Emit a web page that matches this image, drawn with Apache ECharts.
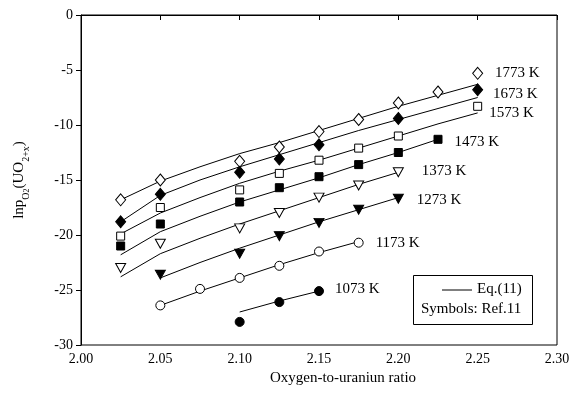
<!DOCTYPE html>
<html>
<head>
<meta charset="utf-8">
<script src="https://cdn.jsdelivr.net/npm/echarts@6/dist/echarts.min.js"></script>
<style>
  html, body { margin: 0; padding: 0; background: #fff; }
  #chart { width: 581px; height: 402px; }
</style>
</head>
<body>
<div id="chart"></div>
<script>
// temperatures (series names)
var temps = ['1773 K', '1673 K', '1573 K', '1473 K', '1373 K', '1273 K', '1173 K', '1073 K']

// measured points (Ref.11)
var obsX1773 = [2.025, 2.05, 2.10, 2.125, 2.15, 2.175, 2.20, 2.225, 2.25]
var obsY1773 = [-16.8, -15.0, -13.3, -12.0, -10.6, -9.5, -8.0, -7.0, -5.3]
var obsX1673 = [2.025, 2.05, 2.10, 2.125, 2.15, 2.20, 2.25]
var obsY1673 = [-18.8, -16.3, -14.3, -13.1, -11.8, -9.4, -6.8]
var obsX1573 = [2.025, 2.05, 2.10, 2.125, 2.15, 2.175, 2.20, 2.25]
var obsY1573 = [-20.1, -17.5, -15.9, -14.4, -13.2, -12.1, -11.0, -8.3]
var obsX1473 = [2.025, 2.05, 2.10, 2.125, 2.15, 2.175, 2.20, 2.225]
var obsY1473 = [-21.0, -19.0, -17.0, -15.7, -14.7, -13.6, -12.5, -11.3]
var obsX1373 = [2.025, 2.05, 2.10, 2.125, 2.15, 2.175, 2.20]
var obsY1373 = [-23.0, -20.8, -19.4, -18.0, -16.6, -15.5, -14.3]
var obsX1273 = [2.05, 2.10, 2.125, 2.15, 2.175, 2.20]
var obsY1273 = [-23.6, -21.7, -20.1, -18.9, -17.7, -16.7]
var obsX1173 = [2.05, 2.075, 2.10, 2.125, 2.15, 2.175]
var obsY1173 = [-26.4, -24.9, -23.9, -22.8, -21.5, -20.7]
var obsX1073 = [2.10, 2.125, 2.15]
var obsY1073 = [-27.9, -26.1, -25.1]

// Eq.(11) curves
var eqX1773 = [2.025, 2.05, 2.075, 2.10, 2.125, 2.15, 2.175, 2.20, 2.225, 2.25]
var eqY1773 = [-16.8, -15.1, -13.8, -12.6, -11.6, -10.5, -9.4, -8.3, -7.3, -6.3]
var eqX1673 = [2.025, 2.05, 2.075, 2.10, 2.125, 2.15, 2.175, 2.20, 2.225, 2.25]
var eqY1673 = [-18.8, -16.4, -15.0, -13.8, -12.7, -11.6, -10.5, -9.5, -8.5, -7.5]
var eqX1573 = [2.025, 2.05, 2.075, 2.10, 2.125, 2.15, 2.175, 2.20, 2.225, 2.25]
var eqY1573 = [-19.9, -18.0, -16.6, -15.3, -14.2, -13.2, -12.1, -11.0, -9.9, -8.9]
var eqX1473 = [2.025, 2.05, 2.075, 2.10, 2.125, 2.15, 2.175, 2.20, 2.225]
var eqY1473 = [-21.8, -19.7, -18.3, -17.0, -15.9, -14.8, -13.6, -12.5, -11.3]
var eqX1373 = [2.025, 2.05, 2.075, 2.10, 2.125, 2.15, 2.175, 2.20]
var eqY1373 = [-23.8, -21.7, -20.3, -19.0, -17.8, -16.6, -15.4, -14.3]
var eqX1273 = [2.05, 2.075, 2.10, 2.125, 2.15, 2.175, 2.20]
var eqY1273 = [-23.9, -22.5, -21.2, -20.0, -18.8, -17.7, -16.6]
var eqX1173 = [2.05, 2.075, 2.10, 2.125, 2.15, 2.175]
var eqY1173 = [-26.4, -25.1, -23.9, -22.7, -21.6, -20.6]
var eqX1073 = [2.10, 2.125, 2.15]
var eqY1073 = [-27.0, -26.0, -25.1]

// axis ticks
var xTicks = [2.00, 2.05, 2.10, 2.15, 2.20, 2.25, 2.30]
var yTicks = [-30, -25, -20, -15, -10, -5, 0]

var obsX = [obsX1773, obsX1673, obsX1573, obsX1473, obsX1373, obsX1273, obsX1173, obsX1073]
var obsY = [obsY1773, obsY1673, obsY1573, obsY1473, obsY1373, obsY1273, obsY1173, obsY1073]
var eqX  = [eqX1773, eqX1673, eqX1573, eqX1473, eqX1373, eqX1273, eqX1173, eqX1073]
var eqY  = [eqY1773, eqY1673, eqY1573, eqY1473, eqY1373, eqY1273, eqY1173, eqY1073]

/* ── marker styles ─────────────────────────────────────────── */
var SYM = [
  { symbol: 'diamond',  size: [10, 12], fill: '#fff', rot: 0 },
  { symbol: 'diamond',  size: [10, 12], fill: '#000', rot: 0 },
  { symbol: 'rect',     size: 8,        fill: '#fff', rot: 0 },
  { symbol: 'rect',     size: 8,        fill: '#000', rot: 0 },
  { symbol: 'triangle', size: [10, 9],  fill: '#fff', rot: 180 },
  { symbol: 'triangle', size: [10, 9],  fill: '#000', rot: 180 },
  { symbol: 'circle',   size: 9,        fill: '#fff', rot: 0 },
  { symbol: 'circle',   size: 9,        fill: '#000', rot: 0 }
]
// label offsets next to the last point of each set
var LABEL_OFF = [[5, 0], [3, 4], [0, 7], [5, 3], [11, -1], [6, 1], [5, 0], [4, -2]]

var FONT = '"Liberation Serif", "Times New Roman", serif'

var chart = echarts.init(document.getElementById('chart'), null, { renderer: 'canvas' })

var series = []
temps.forEach(function (t, i) {
  series.push({
    name: 'Eq.(11) ' + t,
    type: 'line',
    showSymbol: false,
    silent: true,
    lineStyle: { color: '#000', width: 1 },
    data: eqX[i].map(function (x, k) { return [x, eqY[i][k]] }),
    z: 2
  })
})
temps.forEach(function (t, i) {
  var s = SYM[i]
  var n = obsX[i].length
  series.push({
    name: t,
    type: 'scatter',
    symbol: s.symbol,
    symbolSize: s.size,
    symbolRotate: s.rot,
    itemStyle: { color: s.fill, borderColor: '#000', borderWidth: 1, opacity: 1 },
    data: obsX[i].map(function (x, k) {
      var d = { value: [x, obsY[i][k]] }
      if (k === n - 1) {
        d.label = {
          show: true,
          position: 'right',
          distance: 7,
          offset: LABEL_OFF[i],
          formatter: t,
          color: '#000',
          fontFamily: FONT,
          fontSize: 15
        }
      }
      return d
    }),
    z: 3
  })
})

chart.setOption({
  backgroundColor: '#fff',
  animation: false,
  grid: {
    left: 81, right: 24, top: 15, bottom: 57,
    show: true, borderColor: '#000', borderWidth: 1
  },
  xAxis: {
    type: 'value',
    min: 2.0, max: 2.3, interval: 0.05,
    name: 'Oxygen-to-uraniun ratio',
    nameLocation: 'middle',
    nameGap: 22,
    nameTextStyle: { fontFamily: FONT, fontSize: 15, color: '#000', padding: [0, 0, 0, 48] },
    axisLine: { lineStyle: { color: '#000' } },
    axisTick: { inside: false, length: 5, lineStyle: { color: '#000' } },
    axisLabel: {
      fontFamily: FONT, fontSize: 14, color: '#000', margin: 7,
      formatter: function (v) { return v.toFixed(2) }
    },
    splitLine: { show: false }
  },
  yAxis: {
    type: 'value',
    min: -30, max: 0, interval: 5,
    name: '{n|lnp}{s|O}{ss|2}{n|(UO}{s|2+x}{n|)}',
    nameLocation: 'middle',
    nameRotate: 90,
    nameGap: 50,
    nameTextStyle: {
      fontFamily: FONT, color: '#000',
      rich: {
        n:  { fontFamily: FONT, fontSize: 15, color: '#000', lineHeight: 22, verticalAlign: 'middle' },
        s:  { fontFamily: FONT, fontSize: 10, color: '#000', lineHeight: 22, verticalAlign: 'bottom' },
        ss: { fontFamily: FONT, fontSize: 8,  color: '#000', lineHeight: 24, verticalAlign: 'bottom' }
      }
    },
    axisLine: { lineStyle: { color: '#000' } },
    axisTick: { inside: false, length: 5, lineStyle: { color: '#000' } },
    axisLabel: { fontFamily: FONT, fontSize: 14, color: '#000', margin: 8 },
    splitLine: { show: false }
  },
  graphic: [
    { type: 'rect', left: 413, top: 275, shape: { width: 119, height: 49 },
      style: { fill: '#fff', stroke: '#000', lineWidth: 1 }, z: 10 },
    { type: 'line', shape: { x1: 442, y1: 290, x2: 472, y2: 290 },
      style: { stroke: '#000', lineWidth: 1 }, z: 11 },
    { type: 'text', left: 477, top: 282,
      style: { text: 'Eq.(11)', font: '15px ' + FONT, fill: '#000' }, z: 11 },
    { type: 'text', left: 421, top: 302,
      style: { text: 'Symbols: Ref.11', font: '15px ' + FONT, fill: '#000' }, z: 11 }
  ],
  series: series
})

window.addEventListener('resize', function () { chart.resize() })
</script>
</body>
</html>
